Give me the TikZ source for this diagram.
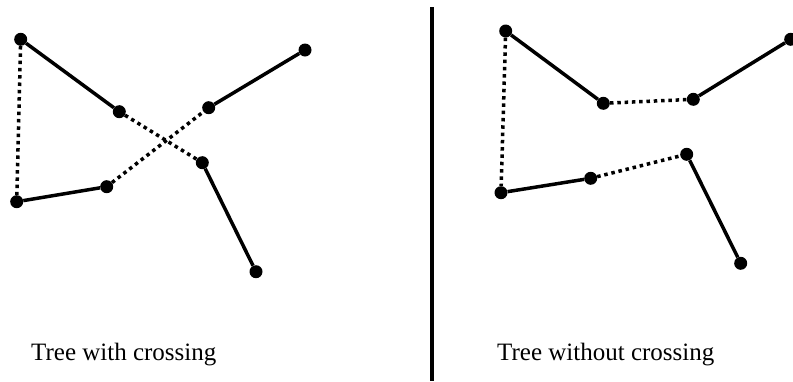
\documentclass[tikz,border=0pt]{standalone}
\usepackage{fontspec}
\setmainfont{Liberation Serif}
\begin{document}
\begin{tikzpicture}[
		x=1pt,
		y=-1pt,
		Dinh/.style={circle,fill=black,inner sep=0pt,minimum size=13pt},
		Canh/.style={line width=3.5pt},
		CanhCham/.style={line width=3.5pt,dash pattern=on 3.5pt off 3.8pt},
		Nhan/.style={anchor=base west,inner sep=0pt,font=\fontsize{25}{30}\selectfont}
	]
	\useasboundingbox (0,0) rectangle (793,381);

	% ===== CÂY CÓ GIAO NHAU =====
	\node[Dinh] (TA) at (20.7,39.3) {};
	\node[Dinh] (TB) at (119.3,111.7) {};
	\node[Dinh] (TC) at (208.7,107.7) {};
	\node[Dinh] (TD) at (305,50) {};
	\node[Dinh] (TE) at (202.3,162.7) {};
	\node[Dinh] (TF) at (256,271.7) {};
	\node[Dinh] (TG) at (16.7,201.7) {};
	\node[Dinh] (TH) at (106.7,186.7) {};

	\draw[Canh] (TA) -- (TB);
	\draw[Canh] (TC) -- (TD);
	\draw[Canh] (TE) -- (TF);
	\draw[Canh] (TG) -- (TH);
	\draw[CanhCham] (TB) -- (TE);
	\draw[CanhCham] (TH) -- (TC);
	\draw[CanhCham] (TA) -- (TG);

	\node[Nhan] (NhanTrai) at (31,360.5) {Tree with crossing};

	% ===== ĐƯỜNG NGĂN =====
	\coordinate (NganTren) at (431.5,7);
	\coordinate (NganDuoi) at (431.5,381);
	\draw[line width=4pt] (NganTren) -- (NganDuoi);

	% ===== CÂY KHÔNG GIAO NHAU =====
	\node[Dinh] (PA) at (505.7,31) {};
	\node[Dinh] (PB) at (603.3,103.3) {};
	\node[Dinh] (PC) at (693.3,99.3) {};
	\node[Dinh] (PD) at (790.7,39.3) {};
	\node[Dinh] (PE) at (686.7,154.3) {};
	\node[Dinh] (PF) at (740.7,263.3) {};
	\node[Dinh] (PG) at (501,192.7) {};
	\node[Dinh] (PH) at (590.7,178.3) {};

	\draw[Canh] (PA) -- (PB);
	\draw[Canh] (PC) -- (PD);
	\draw[Canh] (PE) -- (PF);
	\draw[Canh] (PG) -- (PH);
	\draw[CanhCham] (PB) -- (PC);
	\draw[CanhCham] (PH) -- (PE);
	\draw[CanhCham] (PA) -- (PG);

	\node[Nhan] (NhanPhai) at (497,360.5) {Tree without crossing};

\end{tikzpicture}
\end{document}
